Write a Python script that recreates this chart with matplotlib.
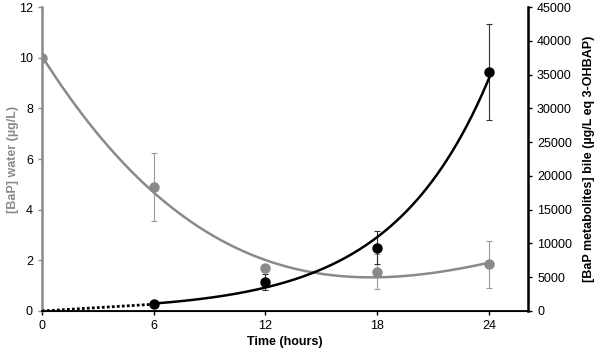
import numpy as np
import matplotlib.pyplot as plt

plt.rcParams['font.family'] = ['Liberation Sans', 'DejaVu Sans']

hours = np.array([0, 6, 12, 18, 24])

# [BaP] in water (left axis)
water = np.array([10.0, 4.9, 1.68, 1.55, 1.85])
water_err = np.array([0.0, 1.35, 0.15, 0.7, 0.93])

# BaP metabolites in bile (right axis), 0 h measured as 0
bile = np.array([0, 1000, 4340, 9370, 35400])
bile_err = np.array([0, 0, 1200, 2450, 7100])

GREY = '#8a8a8a'


def main():
    fig = plt.figure(figsize=(6, 3.52), dpi=100)
    ax = fig.add_axes([0.07, 0.1165, 0.81, 0.8635])
    ax2 = ax.twinx()

    # water: points, error bars, 3rd-order polynomial trendline
    ax.errorbar(hours, water, yerr=np.where(water_err > 0, water_err, np.nan),
                fmt='none', ecolor='#9a9a9a', elinewidth=0.8, capsize=2.5,
                capthick=0.8, zorder=2)
    coef = np.polyfit(hours, water, 3)
    xs = np.linspace(0, 24, 200)
    ax.plot(xs, np.polyval(coef, xs), color=GREY, lw=1.8, zorder=3)
    ax.plot(hours, water, 'o', color=GREY, ms=6.5, zorder=4)

    # bile: exponential trendline from 6 h, dotted segment 0-6 h
    ax2.errorbar(hours[2:], bile[2:], yerr=bile_err[2:], fmt='none',
                 ecolor='#333333', elinewidth=0.8, capsize=2.5, capthick=0.8)
    b, a = np.polyfit(hours[1:], np.log(bile[1:]), 1)
    xe = np.linspace(6, 24, 200)
    ax2.plot(xe, np.exp(a) * np.exp(b * xe), color='black', lw=1.8)
    ax2.plot(hours[:2], bile[:2], color='black', lw=2, ls=(0, (1, 0.8)))
    ax2.plot(hours[1:], bile[1:], 'o', color='black', ms=6.5)

    ax.set_xlim(0, 26.1)
    ax.set_ylim(0, 12)
    ax2.set_ylim(0, 45000)
    ax.set_xticks(hours)
    ax.set_yticks(np.arange(0, 13, 2))
    ax2.set_yticks(np.arange(0, 45001, 5000))

    for s in ['top']:
        ax.spines[s].set_visible(False)
        ax2.spines[s].set_visible(False)
    ax.spines['left'].set_color(GREY)
    ax.spines['left'].set_linewidth(1.8)
    ax2.spines['left'].set_visible(False)
    ax2.spines['right'].set_linewidth(1.8)
    ax.spines['bottom'].set_linewidth(1.3)

    ax.tick_params(axis='y', colors=GREY, labelcolor='black', length=3,
                   width=1, labelsize=9, direction='out')
    ax.tick_params(axis='x', length=3, width=1, labelsize=9)
    ax2.tick_params(axis='y', length=3, width=1, labelsize=9)

    ax.set_xlabel('Time (hours)', fontsize=9, fontweight='bold', labelpad=3)
    ax.set_ylabel('[BaP] water (\u00b5g/L)', fontsize=9, fontweight='bold',
                  color=GREY, labelpad=0)
    ax2.set_ylabel('[BaP metabolites] bile (\u00b5g/L eq 3-OHBAP)', fontsize=9,
                   fontweight='bold', labelpad=8)

    fig.savefig('out.png', dpi=100)


if __name__ == "__main__":
    main()
